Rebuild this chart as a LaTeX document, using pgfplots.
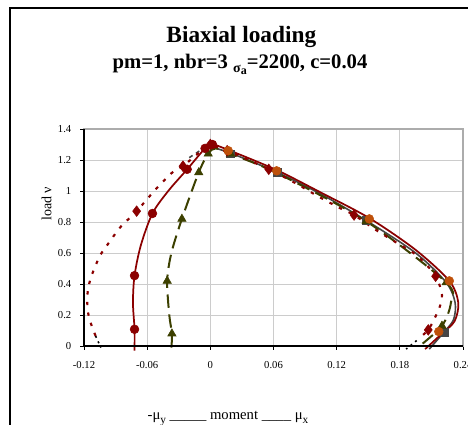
\documentclass[border=0pt]{standalone}
\usepackage{fontspec}
\setmainfont{Liberation Serif}
\usepackage{pgfplots}
\pgfplotsset{compat=1.18}

\definecolor{dred}{RGB}{139,0,0}
\definecolor{orng}{RGB}{190,80,10}
\definecolor{olv}{RGB}{60,64,0}
\definecolor{dgray}{RGB}{70,70,70}

\begin{document}
\begin{tikzpicture}
\clip (0pt,0pt) rectangle (351pt,318.75pt);
% outer chart frame
\draw[black, line width=0.8pt] (7.5pt,-20pt) rectangle (400pt,312.75pt);
\node[anchor=base, font=\bfseries\fontsize{17.5}{20}\selectfont] at (181pt,287pt) {Biaxial loading};
\node[anchor=base, font=\bfseries\fontsize{15.5}{18}\selectfont] at (180pt,267.5pt)
  {pm=1, nbr=3 \raisebox{-0.45ex}{\fontsize{10.5}{12}\selectfont σ\raisebox{-0.35ex}{\fontsize{9}{10}\selectfont a}}=2200, c=0.04};
\node[rotate=90, font=\fontsize{10.5}{12}\selectfont] at (35pt,166pt) {load ν};
\node[anchor=base, font=\fontsize{11}{13}\selectfont] at (171pt,3.75pt)
  {-μ\raisebox{-0.5ex}{\fontsize{8.5}{9}\selectfont y} \_\_\_\_\_ moment \_\_\_\_ μ\raisebox{-0.5ex}{\fontsize{8.5}{9}\selectfont x}};

\begin{axis}[
    at={(63pt,59.25pt)}, anchor=south west,
    width=284.25pt, height=162.75pt, scale only axis,
    xmin=-0.12, xmax=0.24, ymin=0, ymax=1.4,
    xtick={-0.12,-0.06,0,0.06,0.12,0.18,0.24},
    ytick={0,0.2,0.4,0.6,0.8,1,1.2,1.4},
    grid=major, major grid style={gray!40, line width=0.7pt},
    axis line style={gray!65, line width=1pt},
    tick align=outside, xtick pos=bottom, ytick pos=left,
    major tick length=3pt, tick style={black, line width=0.6pt},
    clip=false,
    scaled ticks=false,
    tick label style={font=\fontsize{8}{9}\selectfont},
    /pgf/number format/assume math mode=true,
    /pgf/number format/fixed,
    /pgf/number format/precision=2,
    xticklabel style={yshift=-5pt},
    yticklabel style={xshift=-3pt},
]

% gray solid, squares (mu_x side)
\addplot[dgray, line width=1.2pt, smooth, tension=0.5] coordinates {
    (0,1.285) (0.019,1.245) (0.0635,1.12) (0.105,0.98) (0.148,0.81)
    (0.195,0.60) (0.224,0.41) (0.2325,0.28) (0.231,0.17) (0.222,0.09) (0.208,-0.02)
};
\addplot[only marks, mark=square*, mark size=2.9pt, mark options={fill=dgray, draw=dgray}] coordinates {
    (0.019,1.24) (0.0635,1.12) (0.148,0.81) (0.222,0.09)
};
\addplot[dgray, line width=1.2pt, dashed] coordinates {(-0.02,1.215) (-0.01,1.26)};

% olive dashed, triangles
\addplot[olv, line width=1.5pt, dash pattern=on 10pt off 5pt, smooth, tension=0.5] coordinates {
    (-0.037,-0.01) (-0.0365,0.08) (-0.039,0.20) (-0.041,0.42) (-0.037,0.60)
    (-0.027,0.82) (-0.011,1.12) (-0.002,1.24) (0.005,1.275) (0.019,1.24)
    (0.0635,1.115) (0.148,0.805) (0.224,0.41) (0.2285,0.28) (0.22,0.13) (0.197,-0.01)
};
\addplot[only marks, mark=triangle*, mark size=3.6pt, mark options={fill=olv, draw=olv}] coordinates {
    (-0.0365,0.08) (-0.041,0.42) (-0.027,0.82) (-0.011,1.12) (-0.002,1.24)
    (0.019,1.24) (0.148,0.805) (0.224,0.41) (0.22,0.13)
};

% black dotted tails
\addplot[black, line width=1.2pt, dash pattern=on 1.5pt off 3pt] coordinates {(-0.109,0.065) (-0.104,-0.01)};
\addplot[black, line width=1.2pt, dash pattern=on 1.5pt off 3pt] coordinates {(0.196,0.035) (0.186,-0.02)};

% dark red dotted, diamonds
\addplot[dred, line width=1.6pt, dash pattern=on 2.5pt off 5.5pt, smooth, tension=0.5] coordinates {
    (-0.109,0.065) (-0.113,0.136) (-0.116,0.21) (-0.117,0.30) (-0.116,0.37)
    (-0.113,0.45) (-0.105,0.58) (-0.097,0.66) (-0.085,0.77) (-0.070,0.87)
    (-0.052,1.01) (-0.036,1.12) (-0.026,1.16) (-0.012,1.24) (0,1.29)
    (0.016,1.26) (0.0555,1.14) (0.081,1.05) (0.1025,0.965) (0.123,0.89)
    (0.1365,0.845) (0.157,0.75) (0.176,0.67) (0.197,0.58) (0.214,0.45)
    (0.22,0.33) (0.2175,0.245) (0.212,0.165) (0.207,0.104) (0.200,0.06)
};
\addplot[only marks, mark=diamond*, mark size=4pt, mark options={fill=dred, draw=dred}] coordinates {
    (-0.070,0.87) (-0.026,1.16) (0,1.30) (0.016,1.26) (0.0555,1.14)
    (0.1365,0.845) (0.214,0.45) (0.207,0.104)
};

% dark red solid, circles
\addplot[dred, line width=1.3pt, smooth, tension=0.5] coordinates {
    (-0.072,-0.03) (-0.072,0.108) (-0.0735,0.28) (-0.072,0.454) (-0.066,0.65)
    (-0.055,0.855) (-0.040,1.00) (-0.022,1.14) (-0.005,1.275) (0.002,1.30)
    (0.017,1.265) (0.063,1.135) (0.105,0.99) (0.151,0.825) (0.195,0.62)
    (0.227,0.42) (0.2355,0.28) (0.232,0.16) (0.22,0.08) (0.204,-0.02)
};
\addplot[only marks, mark=*, mark size=3.3pt, mark options={fill=dred, draw=dred}] coordinates {
    (-0.072,0.108) (-0.072,0.454) (-0.055,0.855) (-0.022,1.14) (-0.005,1.275) (0.002,1.30)
};
\addplot[only marks, mark=*, mark size=3.3pt, mark options={fill=orng, draw=orng}] coordinates {
    (0.017,1.26) (0.063,1.13) (0.151,0.82) (0.227,0.42) (0.217,0.093)
};

\draw[black, line width=0.8pt] (rel axis cs:0,1) -- (rel axis cs:0,0) -- (rel axis cs:1,0);
\end{axis}
\end{tikzpicture}
\end{document}
